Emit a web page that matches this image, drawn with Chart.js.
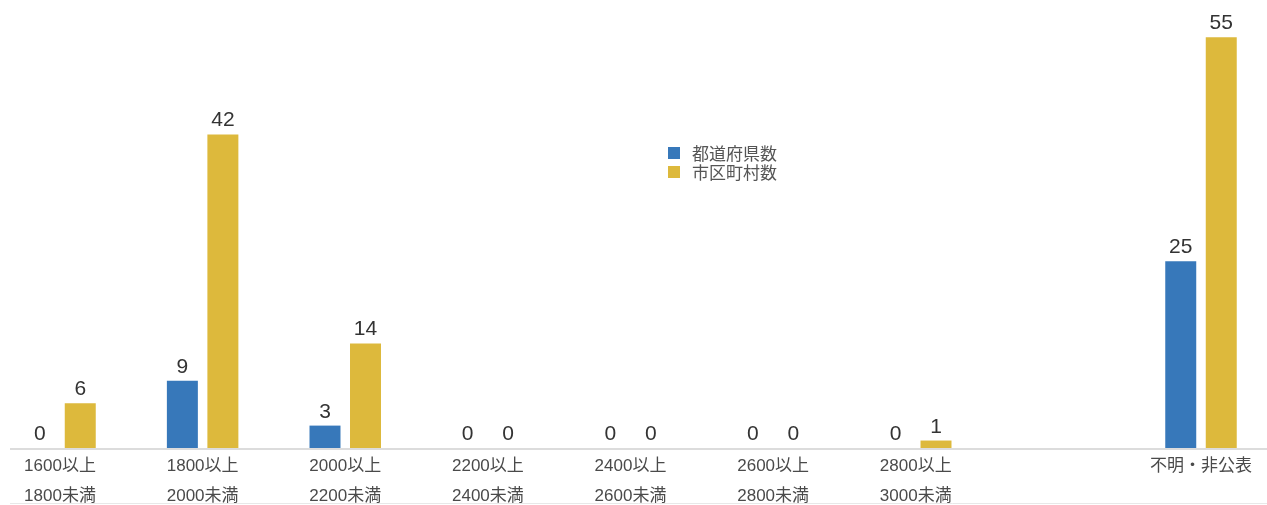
<!DOCTYPE html>
<html>
<head>
<meta charset="utf-8">
<script src="https://cdn.jsdelivr.net/npm/chart.js@4.4.1/dist/chart.umd.min.js"></script>
<style>
  html, body { margin: 0; padding: 0; background: #fff; }
  #wrap { position: relative; width: 1267px; height: 505px; }
  #legend { position: absolute; left: 668px; top: 143px; font-family: "Noto Sans CJK JP", "Liberation Sans", sans-serif; font-size: 17px; color: #555; line-height: 19px; }
  #legend .item { display: flex; align-items: center; white-space: nowrap; }
  #legend .sw { width: 12px; height: 12px; margin-right: 12px; }
</style>
</head>
<body>
<div id="wrap">
  <canvas id="c" width="1267" height="505"></canvas>
  <div id="legend"></div>
</div>
<script>
const categories = [
  ['1600以上', '1800未満'],
  ['1800以上', '2000未満'],
  ['2000以上', '2200未満'],
  ['2200以上', '2400未満'],
  ['2400以上', '2600未満'],
  ['2600以上', '2800未満'],
  ['2800以上', '3000未満'],
  '',
  '不明・非公表'
];
const seriesNames = ['都道府県数', '市区町村数'];
const prefectures = [0, 9, 3, 0, 0, 0, 0, null, 25];
const municipalities = [6, 42, 14, 0, 0, 0, 1, null, 55];
const seriesColors = ['#3778ba', '#ddb93c'];
const yMax = 60;

const valueLabels = {
  id: 'valueLabels',
  afterDatasetsDraw(chart) {
    const ctx = chart.ctx;
    ctx.save();
    ctx.font = '21px "Liberation Sans", Arial, sans-serif';
    ctx.fillStyle = '#333';
    ctx.textAlign = 'center';
    ctx.textBaseline = 'alphabetic';
    chart.data.datasets.forEach((ds, i) => {
      const meta = chart.getDatasetMeta(i);
      meta.data.forEach((bar, j) => {
        const v = ds.data[j];
        if (v === null || v === undefined) return;
        ctx.fillText(String(v), bar.x, bar.y - 8);
      });
    });
    ctx.restore();
  }
};

const axisLines = {
  id: 'axisLines',
  afterDatasetsDraw(chart) {
    const ctx = chart.ctx;
    const y = chart.scales.y.getPixelForValue(0);
    ctx.save();
    ctx.strokeStyle = '#dcdcdc';
    ctx.lineWidth = 2;
    ctx.beginPath();
    ctx.moveTo(10, y + 1);
    ctx.lineTo(chart.width, y + 1);
    ctx.stroke();
    ctx.strokeStyle = '#e8e8e8';
    ctx.lineWidth = 1;
    ctx.beginPath();
    ctx.moveTo(10, chart.height - 1.5);
    ctx.lineTo(chart.width, chart.height - 1.5);
    ctx.stroke();
    ctx.restore();
  }
};

new Chart(document.getElementById('c'), {
  type: 'bar',
  data: {
    labels: categories,
    datasets: [
      { label: seriesNames[0], data: prefectures, backgroundColor: seriesColors[0], clip: false,
        categoryPercentage: 0.568, barPercentage: 0.765 },
      { label: seriesNames[1], data: municipalities, backgroundColor: seriesColors[1], clip: false,
        categoryPercentage: 0.568, barPercentage: 0.765 }
    ]
  },
  options: {
    responsive: false,
    animation: false,
    layout: { padding: { left: 60, right: 66, top: 0, bottom: 0 } },
    plugins: { legend: { display: false }, tooltip: { enabled: false } },
    scales: {
      x: {
        offset: false,
        grid: { display: false, drawTicks: false },
        border: { display: false },
        ticks: {
          padding: 3,
          color: '#4a4a4a',
          maxRotation: 0,
          autoSkip: false,
          font: { family: '"Liberation Sans", "Noto Sans CJK JP", sans-serif', size: 17, lineHeight: 1.765 }
        },
        afterFit(scale) { scale.height = 57; }
      },
      y: {
        display: false,
        min: 0,
        max: yMax
      }
    }
  },
  plugins: [valueLabels, axisLines]
});

const legend = document.getElementById('legend');
seriesNames.forEach((n, i) => {
  const d = document.createElement('div');
  d.className = 'item';
  d.innerHTML = '<span class="sw" style="background:' + seriesColors[i] + '"></span><span>' + n + '</span>';
  legend.appendChild(d);
});
</script>
</body>
</html>
